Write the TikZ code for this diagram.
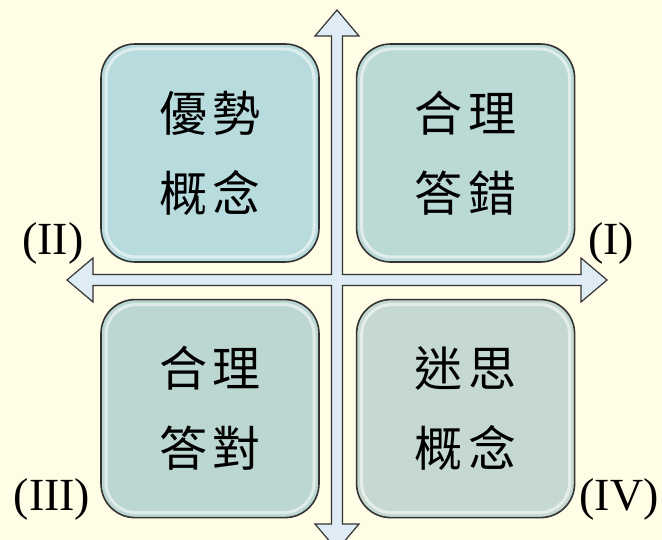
\documentclass[tikz,border=0pt]{standalone}
\usepackage{fontspec}
\setmainfont{Liberation Serif}
\newfontfamily\cjk[LetterSpace=12]{Noto Sans CJK TC}
\usetikzlibrary{positioning}

\definecolor{paper}{HTML}{FFFDE6}
\definecolor{arrowfill}{HTML}{DFECF6}
\definecolor{edge}{HTML}{333333}
\definecolor{quadA}{HTML}{B8DBDD}
\definecolor{quadB}{HTML}{BBD9D5}
\definecolor{quadC}{HTML}{BCD7D1}
\definecolor{quadD}{HTML}{C5D9D1}

\begin{document}
\begin{tikzpicture}[x=1pt,y=-1pt,
    quad/.style={draw=edge, line width=1.6pt, rounded corners=34pt,
        minimum width=218pt, minimum height=218pt, inner sep=0pt,
        align=center, font=\cjk\fontsize{48}{80}\selectfont,
        path picture={\draw[white, opacity=0.55, line width=3pt, rounded corners=30pt]
            ([shift={(5pt,-5pt)}]path picture bounding box.north west) rectangle
            ([shift={(-5pt,5pt)}]path picture bounding box.south east);}},
    numlabel/.style={inner sep=0pt, font=\fontsize{46}{46}\selectfont},
    crossarrow/.style={draw=edge, line width=1.2pt, fill=arrowfill, line join=miter},
    node distance=36pt
    ]
    \fill[paper, use as bounding box] (0,0) rectangle (662,540);
    \clip (0,0) rectangle (662,540);

    % the four-way block arrow
    \draw[crossarrow]
    (342.5,274.5) -- (342.5,36) -- (359,36) -- (337,10) -- (315,36) -- (331.5,36) -- (331.5,274.5)
    -- (93,274.5) -- (93,258) -- (67,280) -- (93,302) -- (93,285.5) -- (331.5,285.5)
    -- (331.5,524) -- (315,524) -- (337,550) -- (359,524) -- (342.5,524) -- (342.5,285.5)
    -- (581,285.5) -- (581,302) -- (607,280) -- (581,258) -- (581,274.5) -- cycle;

    % quadrants
    \node[quad, fill=quadA] (ul) at (210,153) {優勢\\概念};
    \node[quad, fill=quadB, right=of ul] (ur) {合理\\答錯};
    \node[quad, fill=quadC, below=of ul] (ll) {合理\\答對};
    \node[quad, fill=quadD, right=of ll] (lr) {迷思\\概念};

    \node[numlabel] (q1) at (611,243) {(I)};
    \node[numlabel] (q2) at (53,243) {(II)};
    \node[numlabel] (q3) at (52,499) {(III)};
    \node[numlabel] (q4) at (619,499) {(IV)};
\end{tikzpicture}
\end{document}
